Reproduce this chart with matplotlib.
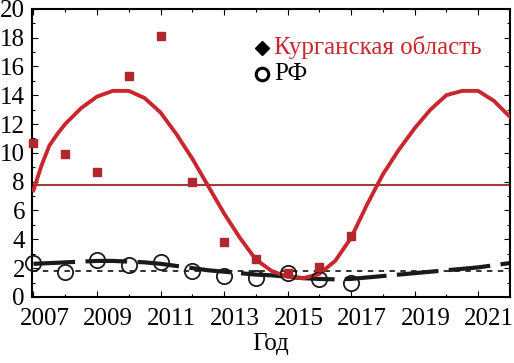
import matplotlib
matplotlib.use("Agg")
import matplotlib.pyplot as plt
import matplotlib.transforms as mtransforms
from matplotlib.ticker import MultipleLocator

plt.rcParams['font.family'] = ['Liberation Serif', 'DejaVu Serif']

# measured points
years = [2007, 2008, 2009, 2010, 2011, 2012, 2013, 2014, 2015, 2016, 2017]
kurgan = [10.65, 9.9, 8.7, 15.3, 18.1, 8.0, 3.8, 2.6, 1.65, 2.05, 4.2]
rf = [2.35, 1.75, 2.55, 2.2, 2.4, 1.8, 1.45, 1.3, 1.65, 1.25, 0.97]
year_ticks = [2007, 2009, 2011, 2013, 2015, 2017, 2019, 2021]

# mean levels
kurgan_mean = 7.8
rf_mean = 1.8

# fitted cycles
fit_years = [2007.0, 2007.25, 2007.5, 2007.75, 2008.0, 2008.5, 2009.0, 2009.5,
             2010.0, 2010.5, 2011.0, 2011.5, 2012.0, 2012.5, 2013.0, 2013.5,
             2014.0, 2014.5, 2015.0, 2015.5, 2016.0, 2016.5, 2017.0, 2017.5,
             2018.0, 2018.5, 2019.0, 2019.5, 2020.0, 2020.5, 2021.0, 2021.5,
             2022.0]
kurgan_fit = [7.4, 9.1, 10.5, 11.3, 12.0, 13.1, 13.9, 14.3,
              14.3, 13.8, 12.8, 11.3, 9.6, 7.7, 5.8, 4.1,
              2.6, 1.8, 1.4, 1.3, 1.6, 2.5, 4.1, 6.4,
              8.5, 10.2, 11.7, 13.0, 14.0, 14.3, 14.3, 13.6,
              12.5]
rf_fit = [2.3, 2.32, 2.35, 2.37, 2.4, 2.45, 2.5, 2.5,
          2.45, 2.4, 2.3, 2.15, 2.0, 1.85, 1.75, 1.65,
          1.55, 1.5, 1.4, 1.3, 1.25, 1.22, 1.25, 1.35,
          1.45, 1.55, 1.65, 1.75, 1.85, 1.95, 2.05, 2.2,
          2.35]

fig = plt.figure(figsize=(5.14, 3.63), dpi=100)
ax = fig.add_axes([0.062, 0.182, 0.93, 0.794])

ax.axhline(kurgan_mean, color='#a33a3a', lw=1.5, zorder=1)
ax.axhline(rf_mean, color='#222222', lw=1.3, ls=(0, (3, 3)), zorder=1)
ax.plot(fit_years, rf_fit, color='#1a1a1a', lw=3, ls=(0, (10, 2.5)), zorder=2)
ax.plot(fit_years, kurgan_fit, color='#c8282d', lw=2.8, zorder=3)
ax.plot(years, rf, 'o', ms=11, mfc='none', mec='#1a1a1a', mew=1.3, zorder=4,
        clip_on=False)
ax.plot(years, kurgan, 's', ms=6, color='#b0272d', mec='#b0272d', zorder=5,
        clip_on=False)

ax.set_xlim(2006.95, 2022.0)
ax.set_ylim(0, 20)
ax.set_xticks(year_ticks)
ax.xaxis.set_minor_locator(MultipleLocator(1))
ax.yaxis.set_major_locator(MultipleLocator(2))
ax.yaxis.set_minor_locator(MultipleLocator(1))
ax.tick_params(which='both', direction='in', top=True, right=True,
               labelsize=18, width=0.8)
ax.tick_params(which='major', length=4)
ax.tick_params(which='minor', length=2.5)
ax.tick_params(axis='x', pad=8)
ax.tick_params(axis='y', pad=5)
for s in ax.spines.values():
    s.set_linewidth(1.5)

# tick labels sit a little right of their ticks in the original
shift = mtransforms.ScaledTranslation(0.11, 0, fig.dpi_scale_trans)
for lbl in ax.get_xticklabels():
    lbl.set_transform(lbl.get_transform() + shift)

ax.set_xlabel('Год', fontsize=18, labelpad=2)

# legend drawn by hand like the original
ax.plot([2014.2], [17.3], 'D', ms=7, color='black', clip_on=False)
ax.text(2014.57, 17.3, 'Курганская область', color='#c8282d', fontsize=18,
        va='center', ha='left')
ax.plot([2014.2], [15.5], 'o', ms=9, mfc='none', mec='black', mew=2.2)
ax.text(2014.57, 15.5, 'РФ', color='black', fontsize=18, va='center', ha='left')

fig.savefig('out.png', dpi=100)
